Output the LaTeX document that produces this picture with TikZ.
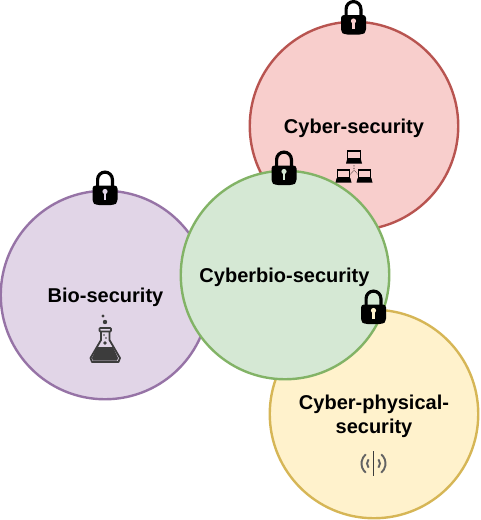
\documentclass[tikz,border=0pt]{standalone}
\usepackage{fontspec}
\setmainfont{Liberation Sans}
\definecolor{redfill}{HTML}{F8CECC}\definecolor{redline}{HTML}{B85450}
\definecolor{purplefill}{HTML}{E1D5E7}\definecolor{purpleline}{HTML}{9673A6}
\definecolor{greenfill}{HTML}{D5E8D4}\definecolor{greenline}{HTML}{82B366}
\definecolor{yellowfill}{HTML}{FFF2CC}\definecolor{yellowline}{HTML}{D6B656}
\definecolor{icongray}{HTML}{3C3C3C}
\tikzset{
  zone/.style={circle,draw=#1line,fill=#1fill,line width=2.4pt,minimum size=208.5pt,inner sep=0pt},
  lbl/.style={font=\fontsize{20}{24}\selectfont\bfseries,align=center,text=black},
  pics/padlock/.style={code={
    \draw[black,line width=3.2pt] (-7.4,-1) -- (-7.4,-9) arc[start angle=180,end angle=360,x radius=7.4,y radius=7.4] -- (7.4,-1);
    \fill[black,rounded corners=3pt] (-12.5,-3) -- (12.5,-3) -- (12.5,14) -- (9,16.5) -- (-9,16.5) -- (-12.5,14) -- cycle;
    \fill[#1] (0,3) circle[radius=2.6];
    \fill[#1] (-1.2,3) -- (1.2,3) -- (1.2,11) -- (-1.2,11) -- cycle;
  }},
  pics/laptop/.style={code={
    \draw[black,line width=1.1pt,fill=redfill] (-6.3,-6.5) rectangle (6.3,1.5);
    \fill[black] (-6.8,1.5) -- (6.8,1.5) -- (8,6) -- (-8,6) -- cycle;
  }}
}
\begin{document}
\begin{tikzpicture}[x=1pt,y=-1pt]
\useasboundingbox (0,0) rectangle (480,520);
\node[zone=red] (cyber) at (354,126) {};
\node[zone=purple] (bio) at (105,295) {};
\node[zone=yellow] (phys) at (374,414) {};
\node[zone=green] (mid) at (285,275) {};
\node[lbl] (cyberl) at (354,128) {Cyber-security};
\node[lbl] (biol) at (105.5,297.5) {Bio-security};
\node[lbl] (midl) at (284.5,277.5) {Cyberbio-security};
\node[lbl] (physl) at (374,416.5) {Cyber-physical-\\security};
% locks
\pic at (353.5,18) {padlock=redfill};
\pic at (105,188.5) {padlock=purplefill};
\pic at (284,168.5) {padlock=greenfill};
\pic at (373.5,307.5) {padlock=yellowfill};
% network icon
\draw[black,densely dotted,line width=.6pt] (354,165) -- (354,170) -- (350,175) (354,170) -- (358,175);
\pic at (354,157.5) {laptop};
\pic at (343.5,176.5) {laptop};
\pic at (364.5,176.5) {laptop};
% flask icon
\fill[icongray] (103,316) circle[radius=1.7] (105,322) circle[radius=2.2];
\fill[icongray] (97,347) -- (113,347) -- (118,358) -- (117,360.5) -- (93,360.5) -- (92,358) -- cycle;
\draw[icongray,line width=1.8pt,line join=round] (101,331) -- (101,340) -- (90.5,358) -- (92,362) -- (118.5,362) -- (120,358) -- (109.5,340) -- (109.5,331);
\draw[icongray,line width=1.8pt,rounded corners=.8pt] (99.5,328) rectangle (111,331.5);
\fill[icongray] (105,343) circle[radius=1.8] (104,335) circle[radius=.9] (106,338) circle[radius=.8];
% antenna icon
\draw[icongray,line width=1.4pt] (373.5,451) -- (373.5,476);
\foreach \r/\a in {6.5/40,12/50}{
  \draw[icongray!80,line width=1.9pt] (373.5,463.5)++(180-\a:\r) arc[start angle=180-\a,end angle=180+\a,radius=\r];
  \draw[icongray!80,line width=1.9pt] (373.5,463.5)++(-\a:\r) arc[start angle=-\a,end angle=\a,radius=\r];
}
\end{tikzpicture}
\end{document}
